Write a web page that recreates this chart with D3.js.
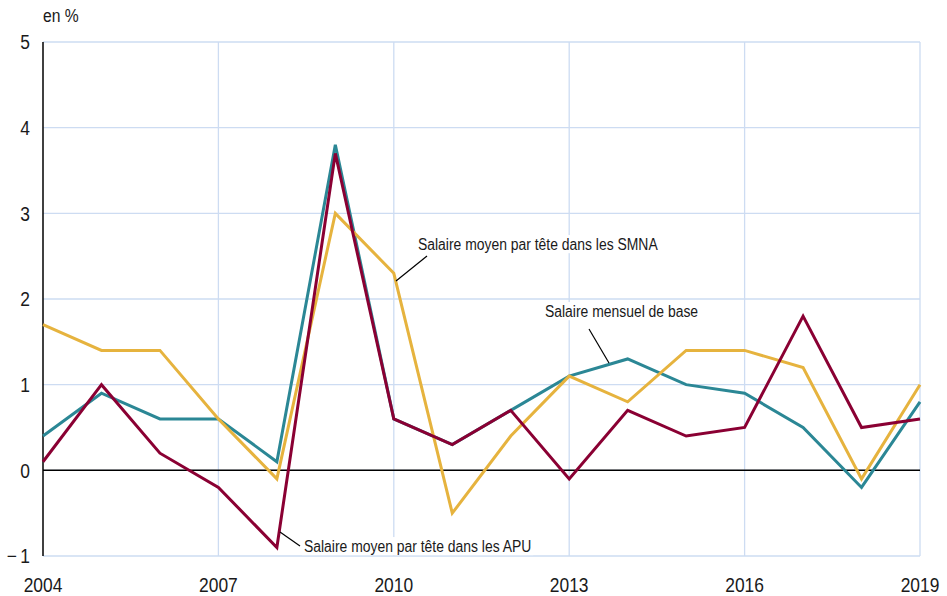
<!DOCTYPE html>
<html>
<head>
<meta charset="utf-8">
<script src="https://cdn.jsdelivr.net/npm/d3@7"></script>
<style>
  body { margin: 0; background: #fff; }
  svg text { font-family: "Liberation Sans Narrow", "Liberation Sans", sans-serif; fill: #1a1a1a; }
</style>
</head>
<body>
<svg id="chart"></svg>
<script>
const years = d3.range(2004, 2020);
const tickYears = [2004, 2007, 2010, 2013, 2016, 2019];
const yTicks = [-1, 0, 1, 2, 3, 4, 5];

// Salaire mensuel de base
const smb = [0.4, 0.9, 0.6, 0.6, 0.1, 3.8, 0.6, 0.3, 0.7, 1.1, 1.3, 1.0, 0.9, 0.5, -0.2, 0.8];
// Salaire moyen par tête dans les SMNA
const smpt = [1.7, 1.4, 1.4, 0.6, -0.1, 3.0, 2.3, -0.5, 0.4, 1.1, 0.8, 1.4, 1.4, 1.2, -0.1, 1.0];
// Salaire moyen par tête dans les APU
const apu = [0.1, 1.0, 0.2, -0.2, -0.9, 3.7, 0.6, 0.3, 0.7, -0.1, 0.7, 0.4, 0.5, 1.8, 0.5, 0.6];

const width = 947, height = 596;
const margin = {top: 42, right: 27, bottom: 40, left: 43};
const squeeze = 0.87; // condensed look

const svg = d3.select('#chart')
  .attr('width', width)
  .attr('height', height);

const x = d3.scaleLinear()
  .domain([2004, 2019])
  .range([margin.left, width - margin.right]);

const y = d3.scaleLinear()
  .domain([-1, 5])
  .range([height - margin.bottom, margin.top]);

function place(px, py) {
  return 'translate(' + px + ',' + py + ') scale(' + squeeze + ',1)';
}

// grid
svg.append('g')
  .selectAll('line')
  .data(yTicks)
  .join('line')
    .attr('x1', x(2004))
    .attr('x2', x(2019))
    .attr('y1', d => y(d))
    .attr('y2', d => y(d))
    .attr('stroke', '#cddcf2')
    .attr('stroke-width', 1.3);

svg.append('g')
  .selectAll('line')
  .data(tickYears.slice(1))
  .join('line')
    .attr('x1', d => x(d))
    .attr('x2', d => x(d))
    .attr('y1', y(5))
    .attr('y2', y(-1))
    .attr('stroke', '#cddcf2')
    .attr('stroke-width', 1.3);

// zero line and left axis
svg.append('line')
  .attr('x1', x(2004)).attr('x2', x(2019))
  .attr('y1', y(0)).attr('y2', y(0))
  .attr('stroke', '#000').attr('stroke-width', 1.5);

svg.append('line')
  .attr('x1', x(2004)).attr('x2', x(2004))
  .attr('y1', y(5)).attr('y2', y(-1))
  .attr('stroke', '#000').attr('stroke-width', 1.5);

// tick labels
svg.append('g')
  .selectAll('text')
  .data(yTicks)
  .join('text')
    .attr('transform', d => place(30, y(d)))
    .attr('dy', '0.36em')
    .attr('text-anchor', 'end')
    .style('font-size', '20px')
    .text(d => d < 0 ? '\u2212\u2009' + Math.abs(d) : d);

svg.append('g')
  .selectAll('text')
  .data(tickYears)
  .join('text')
    .attr('transform', d => place(x(d), 592))
    .attr('text-anchor', 'middle')
    .style('font-size', '20px')
    .text(d => d);

svg.append('text')
  .attr('transform', place(43, 22))
  .style('font-size', '18px')
  .text('en %');

// lines
const line = d3.line()
  .x((d, i) => x(years[i]))
  .y(d => y(d));

const series = [
  {values: smb, color: '#2b8795'},
  {values: smpt, color: '#e6b33e'},
  {values: apu, color: '#8a0033'}
];

svg.append('g')
  .selectAll('path')
  .data(series)
  .join('path')
    .attr('d', d => line(d.values))
    .attr('fill', 'none')
    .attr('stroke', d => d.color)
    .attr('stroke-width', 3)
    .attr('stroke-linejoin', 'miter');

// annotations
const notes = [
  {text: 'Salaire moyen par tête dans les SMNA', tx: 418, ty: 250, x1: 427, y1: 256, x2: 396, y2: 281},
  {text: 'Salaire mensuel de base', tx: 545, ty: 317, x1: 589, y1: 329, x2: 609, y2: 363},
  {text: 'Salaire moyen par tête dans les APU', tx: 304, ty: 552, x1: 300, y1: 546, x2: 280, y2: 532}
];

const ann = svg.append('g');

notes.forEach(function(n) {
  const t = ann.append('text')
    .attr('transform', place(n.tx, n.ty))
    .style('font-size', '16px')
    .text(n.text);
  const b = t.node().getBBox();
  ann.insert('rect', 'text')
    .attr('x', n.tx + b.x * squeeze - 2)
    .attr('y', n.ty + b.y)
    .attr('width', b.width * squeeze + 4)
    .attr('height', b.height)
    .attr('fill', '#fff');
  ann.append('line')
    .attr('x1', n.x1).attr('y1', n.y1)
    .attr('x2', n.x2).attr('y2', n.y2)
    .attr('stroke', '#000')
    .attr('stroke-width', 1.2);
});
</script>
</body>
</html>
